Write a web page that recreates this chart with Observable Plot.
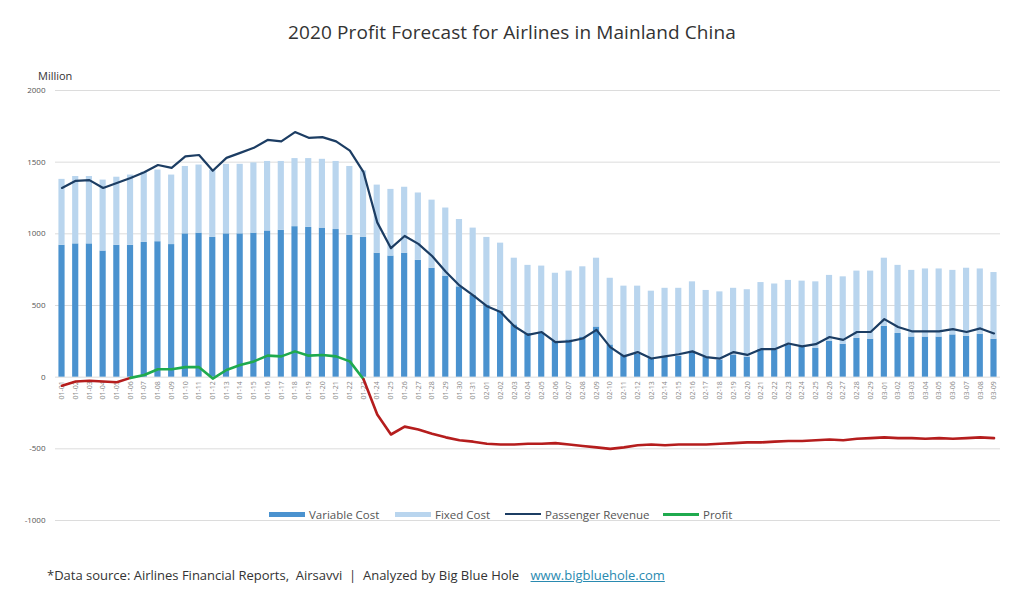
<!DOCTYPE html>
<html>
<head>
<meta charset="utf-8">
<script src="https://cdn.jsdelivr.net/npm/d3@7"></script>
<script src="https://cdn.jsdelivr.net/npm/@observablehq/plot@0.6"></script>
<style>
  body { margin: 0; background: #fff; font-family: "Open Sans", Lato, sans-serif; }
  #wrap { position: relative; width: 1024px; height: 604px; overflow: hidden; }
  #title { position: absolute; top: 19px; left: 0; width: 1024px; text-align: center; font-size: 19px; color: #333; letter-spacing: 0.1px; }
  #unit { position: absolute; top: 68px; left: 38px; font-size: 11px; color: #333; }
  #chart { position: absolute; top: 60px; left: 0; }
  #legend { position: absolute; top: 506px; left: 0; width: 1024px; height: 16px; font-size: 11.5px; color: #555; }
  .li { position: absolute; top: 0; display: flex; align-items: center; height: 16px; }
  .sw { width: 36px; margin-right: 4px; }
  #caption { position: absolute; top: 566px; left: 47px; font-size: 13px; color: #333; }
  #caption a { color: #2a8ab0; text-decoration: underline; margin-left: 8px; }
</style>
</head>
<body>
<div id="wrap">
  <div id="title">2020 Profit Forecast for Airlines in Mainland China</div>
  <div id="unit">Million</div>
  <div id="chart"></div>
  <div id="legend"></div>
  <div id="caption">*Data source: Airlines Financial Reports,&nbsp; Airsavvi&nbsp; |&nbsp; Analyzed by Big Blue Hole <a>www.bigbluehole.com</a></div>
</div>
<script>
const dates = [
  "01-01","01-02","01-03","01-04","01-05","01-06","01-07","01-08","01-09","01-10",
  "01-11","01-12","01-13","01-14","01-15","01-16","01-17","01-18","01-19","01-20",
  "01-21","01-22","01-23","01-24","01-25","01-26","01-27","01-28","01-29","01-30","01-31",
  "02-01","02-02","02-03","02-04","02-05","02-06","02-07","02-08","02-09","02-10",
  "02-11","02-12","02-13","02-14","02-15","02-16","02-17","02-18","02-19","02-20",
  "02-21","02-22","02-23","02-24","02-25","02-26","02-27","02-28","02-29",
  "03-01","03-02","03-03","03-04","03-05","03-06","03-07","03-08","03-09"
];
const variableCost = [
  920,930,930,880,920,920,940,945,925,1000,
  1005,975,1000,1000,1005,1020,1025,1050,1045,1040,
  1030,990,975,865,845,865,815,760,705,630,570,
  500,460,365,305,305,250,260,280,350,225,
  155,160,130,140,145,175,140,120,155,140,
  195,190,225,210,200,250,230,270,265,
  355,305,280,280,280,295,285,300,265
];
const fixedCost = [
  460,470,470,495,475,490,490,500,485,470,
  475,470,485,485,490,485,480,475,480,480,
  475,480,465,475,465,460,470,475,475,470,470,
  475,475,465,475,470,475,480,490,480,465,
  480,475,470,480,475,490,465,475,465,470,
  465,460,450,460,465,460,470,470,475,
  475,475,465,475,475,450,475,455,465
];
const passengerRevenue = [
  1320,1370,1375,1320,1355,1390,1430,1480,1460,1540,
  1550,1440,1530,1565,1600,1655,1645,1710,1670,1675,
  1645,1580,1430,1080,900,985,930,845,735,640,570,
  495,455,355,295,315,245,250,270,330,210,
  145,175,130,145,160,180,140,130,175,155,
  195,195,235,215,230,280,260,315,315,
  405,350,320,320,320,335,315,340,305
];
const profit = [
  -60,-30,-25,-30,-35,-5,15,55,55,70,
  70,-10,50,85,110,150,145,180,150,155,
  145,110,-15,-260,-400,-345,-365,-395,-420,-440,-450,
  -465,-470,-470,-465,-465,-460,-470,-480,-490,-500,
  -490,-475,-470,-475,-470,-470,-470,-465,-460,-455,
  -455,-450,-445,-445,-440,-435,-440,-430,-425,
  -420,-425,-425,-430,-425,-430,-425,-420,-425
];
// profit line colour phases (index ranges): loss, gain, loss
const profitPhases = [[0, 5, "loss"], [5, 22, "gain"], [22, 68, "loss"]];
const yTicks = [-1000, -500, 0, 500, 1000, 1500, 2000];
const seriesNames = ["Variable Cost", "Fixed Cost", "Passenger Revenue", "Profit"];
const colors = { "Variable Cost": "#4a92cf", "Fixed Cost": "#b9d5ee", "Passenger Revenue": "#1c3d63", "Profit": "#1faa4e", "Loss": "#b51d1d" };

const costRows = dates.flatMap((d, i) => [
  { date: d, type: "Variable Cost", value: variableCost[i] },
  { date: d, type: "Fixed Cost", value: fixedCost[i] }
]);
const revRows = dates.map((d, i) => ({ date: d, value: passengerRevenue[i] }));
const profitRows = profitPhases.flatMap(([a, b, kind], k) =>
  d3.range(a, b + 1).map(i => ({ date: dates[i], value: profit[i], seg: k, kind })));

const chart = Plot.plot({
  width: 1024,
  height: 480,
  marginTop: 30,
  marginBottom: 20,
  marginLeft: 55,
  marginRight: 24,
  style: { fontFamily: "Open Sans, Lato, sans-serif", background: "transparent" },
  x: { type: "band", domain: dates, paddingInner: 0.55, paddingOuter: 0.25, axis: null },
  y: { domain: [-1000, 2000], axis: null },
  color: { domain: ["Variable Cost", "Fixed Cost"], range: [colors["Variable Cost"], colors["Fixed Cost"]] },
  marks: [
    Plot.gridY(yTicks, { stroke: "#dcdcdc", strokeOpacity: 1, strokeWidth: 1 }),
    Plot.axisY(yTicks, { tickSize: 0, tickPadding: 10, fontSize: 8, fill: "#555", label: null, tickFormat: d => String(d) }),
    Plot.barY(costRows, { x: "date", y: "value", fill: "type", order: ["Variable Cost", "Fixed Cost"] }),
    Plot.text(dates, { x: d => d, y: () => 0, text: d => d, rotate: -90, textAnchor: "end", fontSize: 7, fill: "#888", lineAnchor: "middle", dy: 4 }),
    Plot.line(revRows, { x: "date", y: "value", stroke: colors["Passenger Revenue"], strokeWidth: 2.2 }),
    Plot.line(profitRows, { x: "date", y: "value", z: "seg", stroke: d => d.kind === "gain" ? colors["Profit"] : colors["Loss"], strokeWidth: 2.6 })
  ]
});
document.getElementById("chart").appendChild(chart);

// legend
const legendItems = [
  { name: seriesNames[0], left: 269, h: 5 },
  { name: seriesNames[1], left: 395, h: 5 },
  { name: seriesNames[2], left: 505, h: 2 },
  { name: seriesNames[3], left: 663, h: 3 }
];
const lg = document.getElementById("legend");
legendItems.forEach(it => {
  const el = document.createElement("div");
  el.className = "li";
  el.style.left = it.left + "px";
  const sw = document.createElement("div");
  sw.className = "sw";
  sw.style.height = it.h + "px";
  sw.style.background = colors[it.name];
  const tx = document.createElement("span");
  tx.textContent = it.name;
  el.appendChild(sw); el.appendChild(tx);
  lg.appendChild(el);
});
</script>
</body>
</html>
